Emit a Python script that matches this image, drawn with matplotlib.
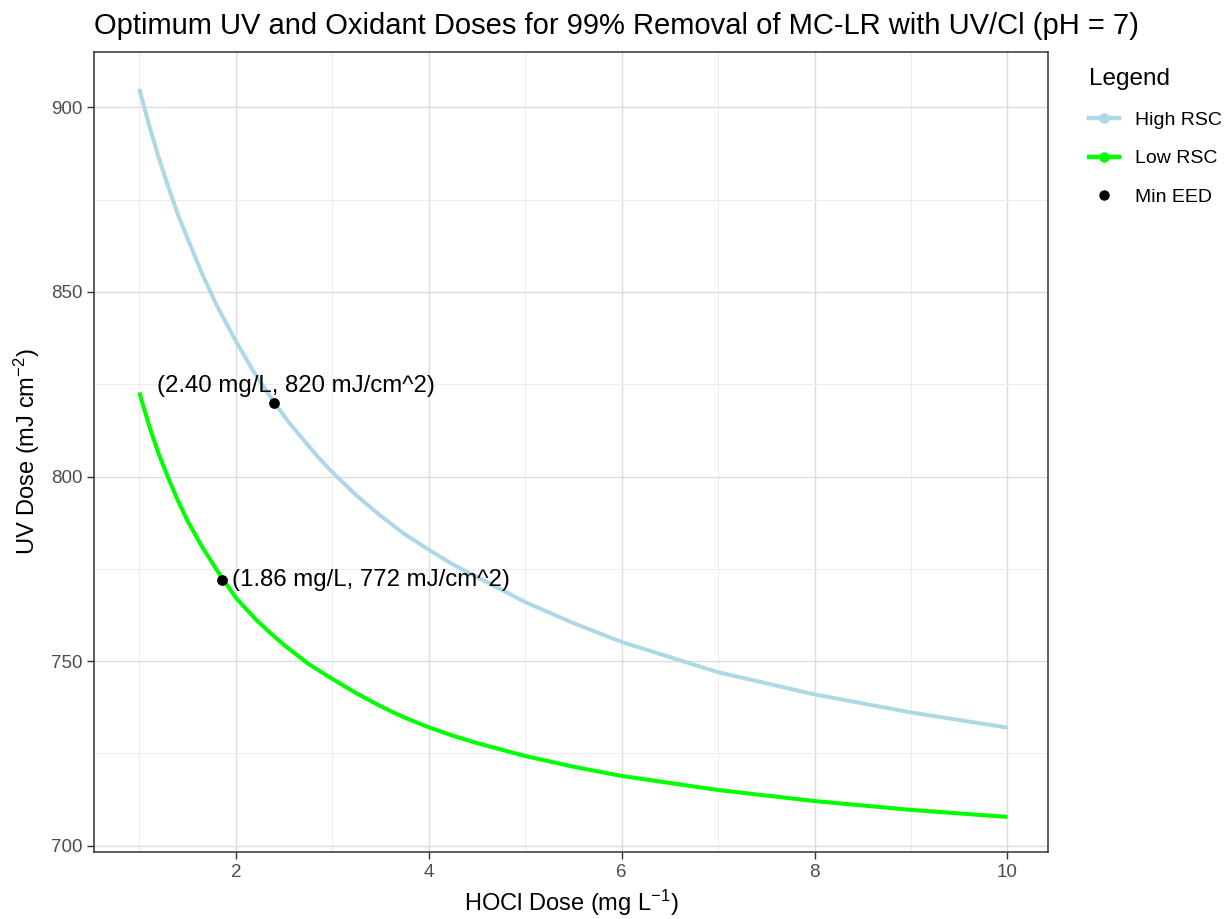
import numpy as np
import matplotlib
matplotlib.use('Agg')
import matplotlib.pyplot as plt
from matplotlib.lines import Line2D
from matplotlib.ticker import MultipleLocator

plt.rcParams['font.family'] = ['Liberation Sans', 'DejaVu Sans']
plt.rcParams['mathtext.fontset'] = 'custom'
plt.rcParams['mathtext.rm'] = 'Liberation Sans'
plt.rcParams['mathtext.it'] = 'Liberation Sans:italic'

# curves (HOCl dose mg/L vs UV dose mJ/cm2)
hocl_high = [1, 1.1, 1.2, 1.3, 1.4, 1.5, 1.65, 1.8, 2, 2.2, 2.4, 2.55, 2.7, 2.85, 3, 3.25, 3.5, 3.75,
             4, 4.25, 4.5, 5, 5.5, 6, 7, 8, 9, 10]
uv_high = [905, 895.3, 886.5, 878.5, 871, 864.5, 855, 846.5, 836.7, 827.8, 820, 814.7, 810, 805.4,
           801.2, 794.9, 789.4, 784.4, 780.2, 776.2, 772.8, 766, 760.3, 755.2, 747, 741, 736.1, 732]
hocl_low = [1, 1.1, 1.2, 1.3, 1.4, 1.5, 1.65, 1.8, 2, 2.2, 2.35, 2.5, 2.75, 3, 3.25, 3.5, 3.75,
            4, 4.25, 4.5, 5, 5.5, 6, 7, 8, 9, 10]
uv_low = [822.8, 813.9, 806.2, 799.6, 793.5, 788, 781, 774.8, 767.2, 761.5, 757.8, 754.4, 749.3,
          745.2, 741.3, 737.8, 734.7, 732.1, 729.8, 727.8, 724.3, 721.4, 718.9, 715.1, 712.1, 709.7, 707.8]

# minimum EED points
min_hocl = [2.40, 1.86]
min_uv = [820, 772]
min_labels = ['(2.40 mg/L, 820 mJ/cm^2)', '(1.86 mg/L, 772 mJ/cm^2)']
label_pos = [(1.18, 824.5), (1.96, 772)]

fig = plt.figure(figsize=(12.3, 9.19), dpi=100)
ax = fig.add_axes([0.0764, 0.0729, 0.852 - 0.0764, 0.9434 - 0.0729])

ax.plot(hocl_high, uv_high, color='#ADD8E6', lw=2.9, solid_capstyle='butt', zorder=3)
ax.plot(hocl_low, uv_low, color='#00FF00', lw=2.9, solid_capstyle='butt', zorder=3)
ax.scatter(min_hocl, min_uv, s=45, color='black', zorder=4)
for (tx, ty), lab in zip(label_pos, min_labels):
    ax.text(tx, ty, lab, fontsize=17.3, ha='left', va='center', zorder=5)

ax.set_xlim(0.53, 10.42)
ax.set_ylim(698.3, 915)
ax.xaxis.set_major_locator(MultipleLocator(2))
ax.xaxis.set_minor_locator(MultipleLocator(1))
ax.yaxis.set_major_locator(MultipleLocator(50))
ax.yaxis.set_minor_locator(MultipleLocator(25))
ax.grid(which='major', color='#dcdcdc', lw=1.0)
ax.grid(which='minor', color='#ececec', lw=0.7)
ax.set_axisbelow(True)
ax.tick_params(which='minor', length=0)
ax.tick_params(which='major', length=5, width=1, color='#333333',
               labelsize=13.5, labelcolor='#4d4d4d')
for s in ax.spines.values():
    s.set_color('#333333')
    s.set_linewidth(1.1)

ax.set_xlabel('HOCl Dose (mg L$^{-1}$)', fontsize=17, labelpad=5)
ax.set_ylabel('UV Dose (mJ cm$^{-2}$)', fontsize=17, labelpad=6)
fig.text(0.0764, 0.972, 'Optimum UV and Oxidant Doses for 99% Removal of MC-LR with UV/Cl (pH = 7)',
         fontsize=21, ha='left', va='center')

handles = [
    Line2D([], [], color='#ADD8E6', lw=3.2, marker='o', markersize=6.5),
    Line2D([], [], color='#00FF00', lw=3.2, marker='o', markersize=6.5),
    Line2D([], [], color='black', lw=0, marker='o', markersize=6.5),
]
leg = fig.legend(handles, ['High RSC', 'Low RSC', 'Min EED'], loc='upper left',
                 bbox_to_anchor=(0.871, 0.9448), frameon=False, title='Legend',
                 fontsize=14, title_fontsize=17.5, alignment='left',
                 handlelength=1.55, handletextpad=0.85, labelspacing=1.08)

plt.savefig('out.png', dpi=100)
